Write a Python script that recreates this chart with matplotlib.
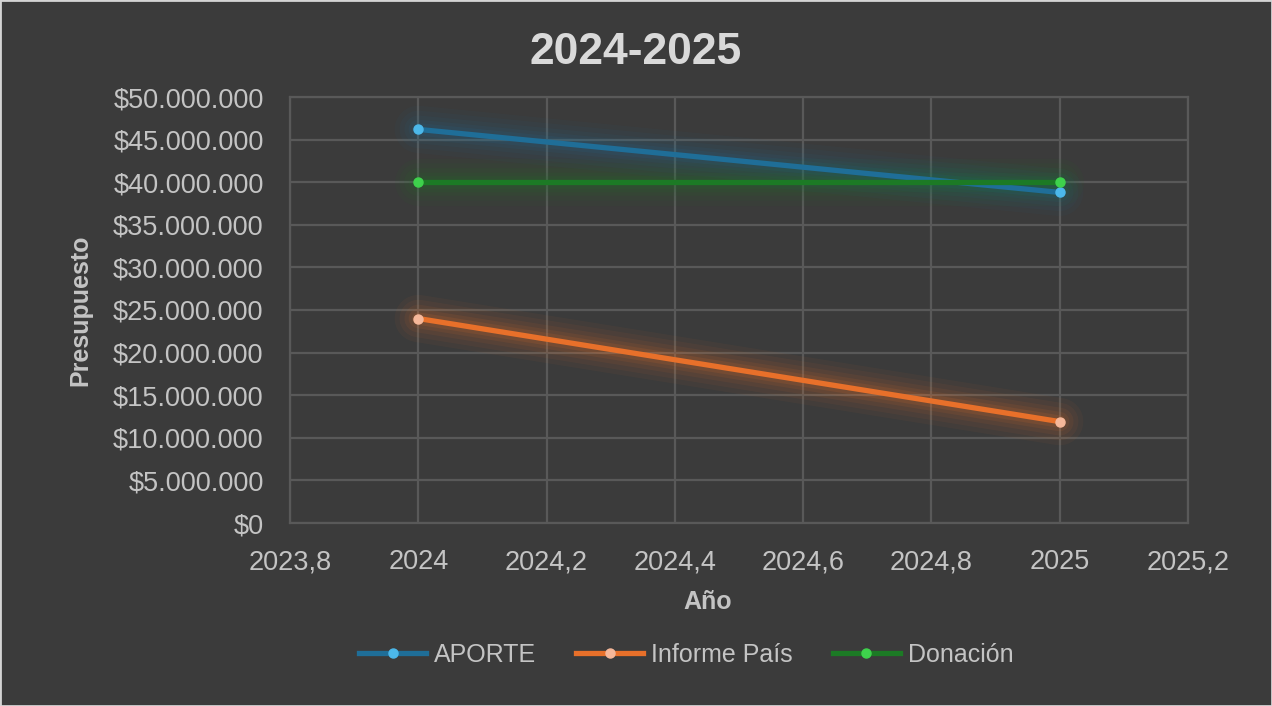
import numpy as np
import matplotlib.pyplot as plt
from matplotlib.patches import Rectangle
from matplotlib.ticker import FuncFormatter
from matplotlib.lines import Line2D

# data
years = [2024, 2025]
aporte = [46200000, 38800000]
informe_pais = [24000000, 11900000]
donacion = [40000000, 40000000]

series_names = ['APORTE', 'Informe País', 'Donación']
series_values = [aporte, informe_pais, donacion]
line_colors = ['#1f6e98', '#e8702a', '#1c7a25']
marker_colors = ['#4cb8ea', '#f6b89a', '#3ed24c']

bg = '#3b3b3b'
text_col = '#c4c4c4'
grid_col = '#595959'

plt.rcParams['font.family'] = ['Liberation Sans', 'DejaVu Sans']

W, H = 1272, 706
fig = plt.figure(figsize=(W / 100, H / 100), dpi=100, facecolor=bg)
ax = fig.add_axes([290 / W, 1 - 523 / H, (1188 - 290) / W, (523 - 97) / H])
ax.set_facecolor(bg)

for name, vals, lc, mc in zip(series_names, series_values, line_colors, marker_colors):
    # soft glow under the line
    for w, a in [(34, 0.05), (27, 0.06), (20, 0.07), (14, 0.09), (9, 0.12)]:
        ax.plot(years, vals, color=lc, lw=w, alpha=a, solid_capstyle='round', zorder=2)
    ax.plot(years, vals, color=lc, lw=3.8, solid_capstyle='round', zorder=3)
    ax.plot(years, vals, ls='none', marker='o', ms=6.5, mfc=mc, mec=mc, zorder=4)

ax.set_xlim(2023.8, 2025.2)
ax.set_ylim(0, 50000000)
ax.set_xticks(np.arange(2023.8, 2025.21, 0.2))
ax.set_yticks(np.arange(0, 50000001, 5000000))


def fmt_money(v, pos):
    return '$' + f'{int(round(v)):,}'.replace(',', '.')


def fmt_year(v, pos):
    s = f'{v:.1f}'.replace('.', ',')
    if s.endswith(',0'):
        s = s[:-2]
    return s


ax.yaxis.set_major_formatter(FuncFormatter(fmt_money))
ax.xaxis.set_major_formatter(FuncFormatter(fmt_year))
ax.tick_params(colors=text_col, length=0)
ax.tick_params(axis='y', labelsize=19.5, pad=19)
ax.tick_params(axis='x', labelsize=19.5, pad=19)
ax.grid(True, color=grid_col, lw=1.6)
for sp in ax.spines.values():
    sp.set_color(grid_col)
    sp.set_linewidth(1.6)
ax.set_axisbelow(True)

fig.text(708 / W, 1 - 602 / H, 'Año', color=text_col, fontsize=18,
         fontweight='bold', ha='center', va='center')
fig.text(80 / W, 1 - 310 / H, 'Presupuesto', color=text_col, fontsize=18,
         fontweight='bold', ha='center', va='center', rotation=90)
fig.text(636 / W, 1 - 52 / H, '2024-2025', color='#d9d9d9', fontsize=32,
         fontweight='bold', ha='center', va='center')

handles = [Line2D([0], [0], color=lc, lw=3.8, marker='o', ms=6.5, mfc=mc, mec=mc)
           for lc, mc in zip(line_colors, marker_colors)]
leg = fig.legend(handles, series_names, loc='center', bbox_to_anchor=(686 / W, 1 - 655 / H),
                 ncol=3, frameon=False, fontsize=18, handlelength=2.7, handletextpad=0.3,
                 columnspacing=1.6, labelcolor=text_col)

fig.add_artist(Rectangle((0, 0), 1, 1, transform=fig.transFigure, fill=False,
                         edgecolor='#d4d4d4', lw=2))

fig.savefig('out.png', dpi=100, facecolor=bg)
